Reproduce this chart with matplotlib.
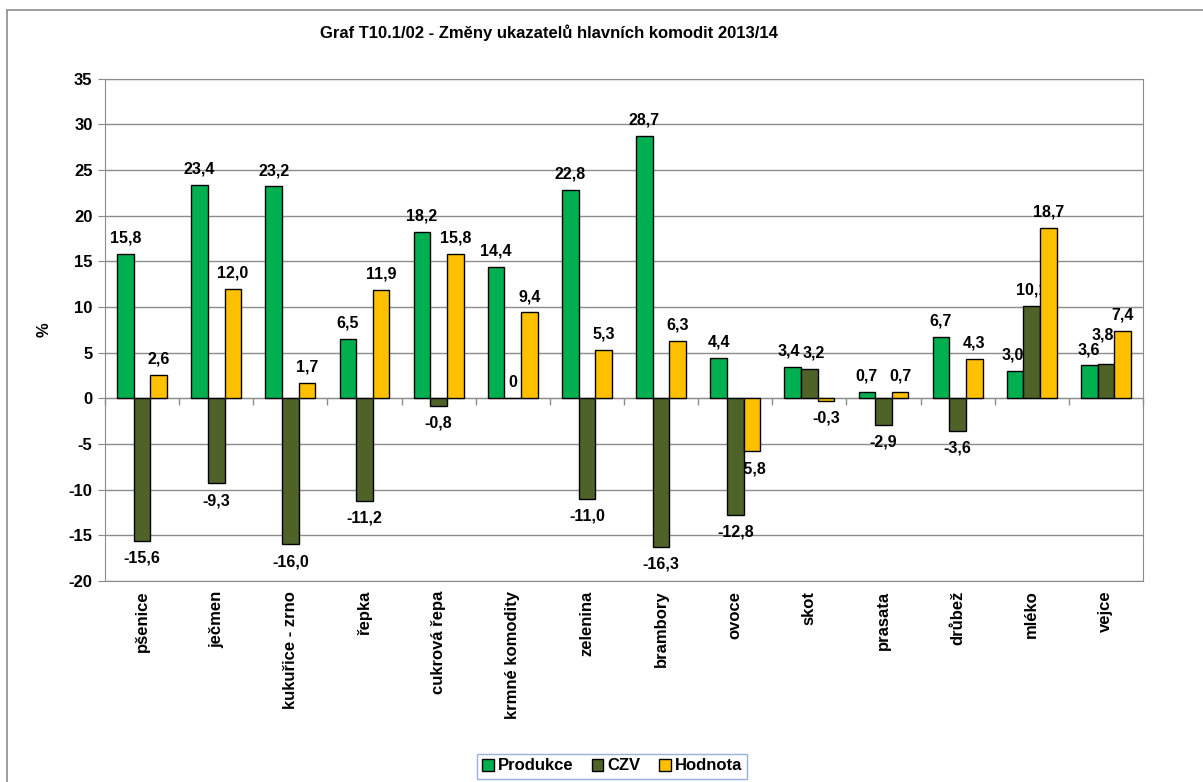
import numpy as np
import matplotlib
matplotlib.use('agg')
import matplotlib.pyplot as plt
from matplotlib.patches import Rectangle

plt.rcParams['font.family'] = ['Liberation Sans', 'DejaVu Sans']
plt.rcParams['font.weight'] = 'bold'
plt.rcParams['axes.unicode_minus'] = False

categories = ['pšenice', 'ječmen', 'kukuřice - zrno', 'řepka', 'cukrová řepa',
              'krmné komodity', 'zelenina', 'brambory', 'ovoce', 'skot',
              'prasata', 'drůbež', 'mléko', 'vejce']
produkce = [15.8, 23.4, 23.2, 6.5, 18.2, 14.4, 22.8, 28.7, 4.4, 3.4, 0.7, 6.7, 3.0, 3.6]
czv = [-15.6, -9.3, -16.0, -11.2, -0.8, 0, -11.0, -16.3, -12.8, 3.2, -2.9, -3.6, 10.1, 3.8]
hodnota = [2.6, 12.0, 1.7, 11.9, 15.8, 9.4, 5.3, 6.3, -5.8, -0.3, 0.7, 4.3, 18.7, 7.4]

series = [('Produkce', produkce, '#00B050'),
          ('CZV', czv, '#4F6228'),
          ('Hodnota', hodnota, '#FFC000')]

# manual label nudges (points) where labels crowd, as in the original
nudge = {(0, 9): (-3, 0), (1, 9): (3, 0), (0, 12): (-2, 0), (1, 13): (-2, 9)}

grey = '#8C8C8C'
fs = 12

fig = plt.figure(figsize=(12.03, 7.82), dpi=100)
ax = fig.add_axes([0.0873, 0.2570, 0.8628, 0.6424])

# outer chart frame
fig.patches.append(Rectangle((7/1203, -0.1), 1.1, 1 - 10/782 + 0.1,
                             transform=fig.transFigure, fill=False,
                             edgecolor=grey, linewidth=1.2))

x = np.arange(len(categories))
w = 0.224
for i, (name, vals, col) in enumerate(series):
    pos = x + (i - 1) * w
    ax.bar(pos, vals, w, color=col, edgecolor='black', linewidth=1,
           label=name, zorder=3)
    for j, (p, v) in enumerate(zip(pos, vals)):
        txt = '0' if v == 0 else ('%.1f' % v).replace('.', ',')
        dx, dy = nudge.get((i, j), (0, 0))
        if v >= 0:
            ax.annotate(txt, (p, v), xytext=(dx, 6 + dy), textcoords='offset points',
                        ha='center', va='bottom', fontsize=11.5, fontweight='bold',
                        zorder=2.5)
        else:
            ax.annotate(txt, (p, v), xytext=(dx, -7 + dy), textcoords='offset points',
                        ha='center', va='top', fontsize=11.5, fontweight='bold',
                        zorder=2.5)

ax.set_xlim(-0.5, len(categories) - 0.5)
ax.set_ylim(-20, 35)
ax.set_yticks(range(-20, 36, 5))
ax.yaxis.grid(True, color=grey, linewidth=1)
ax.set_axisbelow(True)
ax.tick_params(axis='y', length=5, color=grey, labelsize=fs, pad=4)
for lab in ax.get_yticklabels():
    lab.set_fontweight('bold')

# zero axis with ticks at category boundaries
ax.spines['bottom'].set_position(('data', 0))
ax.spines['bottom'].set_color(grey)
ax.set_xticks(np.arange(len(categories) + 1) - 0.5)
ax.tick_params(axis='x', length=5, color=grey, labelbottom=False, width=1)
for s in ['left', 'right', 'top']:
    ax.spines[s].set_color(grey)

# category labels at the bottom of the plot area
sec = ax.secondary_xaxis(0)
sec.set_xticks(x)
sec.set_xticklabels(categories, rotation=90, fontsize=fs, fontweight='bold',
                    va='top')
sec.tick_params(length=0, pad=7)
sec.spines['bottom'].set_color(grey)

ax.set_ylabel('%', fontsize=fs, fontweight='bold', labelpad=12)

fig.text(549/1203, 1 - 33/782, 'Graf T10.1/02 - Změny ukazatelů hlavních komodit 2013/14',
         ha='center', va='center', fontsize=12, fontweight='bold')

leg = fig.legend(loc='center', bbox_to_anchor=(612/1203, 1 - 766/782), ncol=3,
                 frameon=True, fancybox=False, edgecolor='#7F9FCF',
                 handlelength=0.7, handleheight=0.7, handletextpad=0.25,
                 columnspacing=1.1, borderpad=0.3,
                 prop={'size': fs, 'weight': 'bold'})
leg.get_frame().set_linewidth(1)

fig.savefig('out.png', dpi=100)
